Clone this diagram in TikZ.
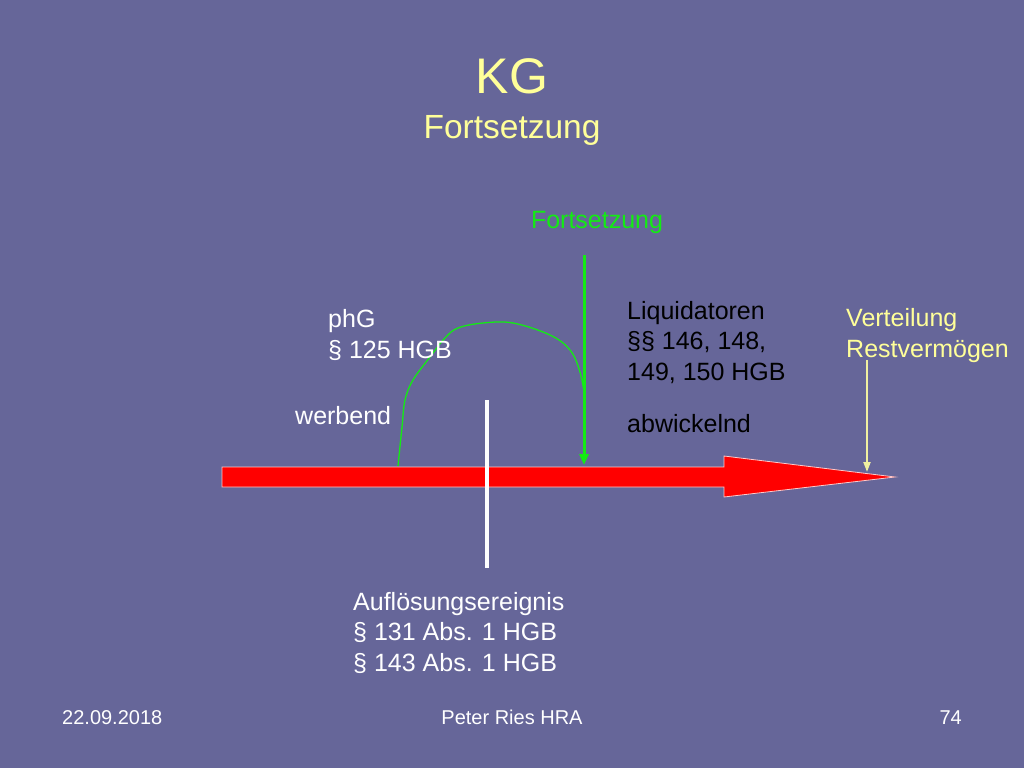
\documentclass[tikz,border=0pt]{standalone}
\usepackage{fontspec}
\setmainfont{Liberation Sans}
\usetikzlibrary{arrows.meta}
\definecolor{bg}{RGB}{102,102,153}
\definecolor{titley}{RGB}{255,255,153}
\definecolor{grn}{RGB}{20,235,20}
\definecolor{yel}{RGB}{240,240,160}
\definecolor{redf}{RGB}{255,0,0}
\tikzset{
  lbl/.style={inner sep=0pt, anchor=base west, align=left, font=\fontsize{25}{30.5}\selectfont},
  foot/.style={inner sep=0pt, anchor=base, font=\fontsize{20}{24}\selectfont, text=white},
  grarrow/.style={draw=grn, line width=3pt, -{Triangle[length=11pt,width=9pt]}},
  yarrow/.style={draw=yel, line width=2pt, -{Triangle[length=10pt,width=7pt]}},
}
\begin{document}
\begin{tikzpicture}[x=1pt,y=-1pt]
\fill[bg] (0,0) rectangle (1024,768);
\useasboundingbox (0,0) rectangle (1024,768);
% title
\node[inner sep=0pt, anchor=base, text=titley, font=\fontsize{50}{60}\selectfont] (kg) at (512,93) {KG};
\node[inner sep=0pt, anchor=base, text=titley, font=\fontsize{33.5}{40}\selectfont] (sub) at (512,138) {Fortsetzung};
% red timeline arrow
\coordinate (rs) at (222,477);
\coordinate (rtip) at (895,477);
\filldraw[fill=redf, draw={rgb,255:red,255;green,200;blue,200}, line width=0.8pt]
  (222,467) -- (724,467) -- (724,456) -- (rtip) -- (724,497) -- (724,487) -- (222,487) -- cycle;
% white dissolution marker
\coordinate (wtop) at (487,400);
\coordinate (wbot) at (487,568);
\draw[white, line width=4pt] (wtop) -- (wbot);
% green Fortsetzung
\node[lbl, text=grn, anchor=base] (fort) at (597,228) {Fortsetzung};
\coordinate (gtop) at (584,255);
\coordinate (gend) at (584,465);
\draw[grarrow] (gtop) -- (gend);
\coordinate (cstart) at (398,466);
\coordinate (cend) at (585,398);
\draw[grn, line width=1.3pt] plot[smooth, tension=0.6] coordinates {
  (cstart) (402,427) (405,400) (413,380) (430,357) (445,338) (458,328)
  (483,323) (513,323) (550,335) (570,350) (580,372) (cend)};
% labels (multi-line nodes: base = last line's baseline)
\node[lbl, text=white] (phg) at (328,358) {phG\\§ 125 HGB};
\node[lbl, text=white] (werb) at (295,424) {werbend};
\node[lbl, text=black] (liq) at (627,380) {Liquidatoren\\§§ 146, 148,\\149, 150 HGB};
\node[lbl, text=black] (abw) at (627,432) {abwickelnd};
\node[lbl, text=titley] (vert) at (846,357) {Verteilung\\Restvermögen};
\coordinate (ytop) at (867,360);
\coordinate (yend) at (867,472);
\draw[yarrow] (ytop) -- (yend);
\node[lbl, text=white] (aufl) at (353,671) {Auflösungsereignis\\§ 131 Abs. 1 HGB\\§ 143 Abs. 1 HGB};
% footer
\node[foot, anchor=base west] (date) at (62,724) {22.09.2018};
\node[foot] (auth) at (512,724) {Peter Ries HRA};
\node[foot, anchor=base east] (page) at (962,724) {74};
\end{tikzpicture}
\end{document}
